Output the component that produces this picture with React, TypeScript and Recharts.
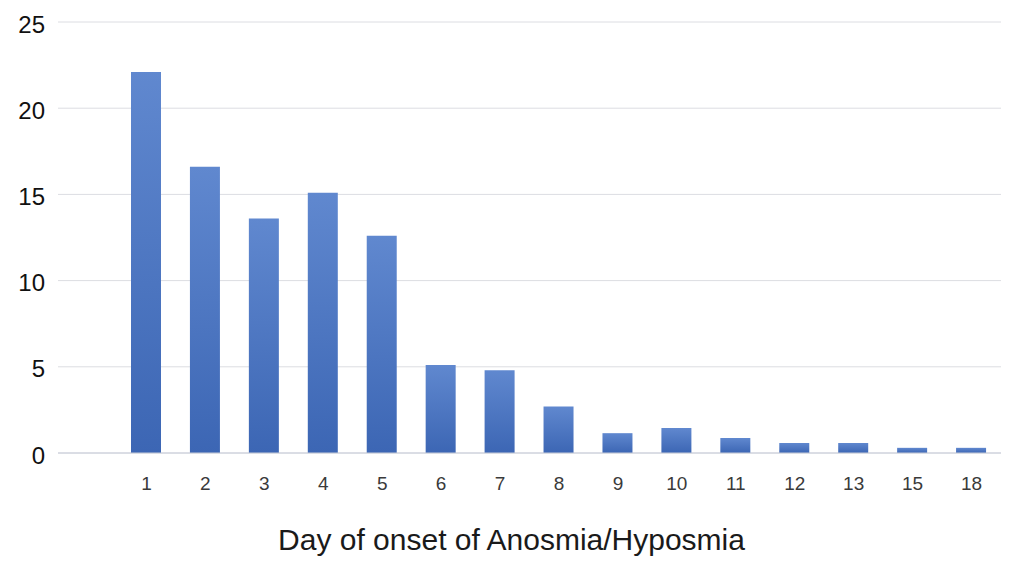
import { Bar, BarChart, CartesianGrid, XAxis, YAxis } from "recharts";

const DAYS = ["1", "2", "3", "4", "5", "6", "7", "8", "9", "10", "11", "12", "13", "15", "18"];
const PERCENT = [22.1, 16.6, 13.6, 15.1, 12.6, 5.1, 4.8, 2.7, 1.15, 1.45, 0.87, 0.58, 0.58, 0.3, 0.3];
const Y_TICKS = [0, 5, 10, 15, 20, 25];

const data = DAYS.map((day, i) => ({ day, value: PERCENT[i] }));

const FONT = "'Liberation Sans', Arial, sans-serif";

export default function App() {
  return (
    <div style={{ position: "absolute", left: 0, top: 0, background: "#fff" }}>
      <BarChart
        width={1024}
        height={584}
        data={data}
        margin={{ top: 22, right: 23, left: 0, bottom: 0 }}
      >
        <defs>
          <linearGradient id="barGrad" x1="0" y1="0" x2="0" y2="1">
            <stop offset="0%" stopColor="#6088cf" />
            <stop offset="100%" stopColor="#3c66b4" />
          </linearGradient>
        </defs>
        <CartesianGrid vertical={false} stroke="#dcdde2" />
        <XAxis
          dataKey="day"
          height={131}
          padding={{ left: 59, right: 0 }}
          axisLine={{ stroke: "#c8ccd8" }}
          tickLine={false}
          tickSize={0}
          tickMargin={24}
          interval={0}
          tick={{ fontSize: 19, fill: "#3a3a3a", fontFamily: FONT }}
          label={{
            value: "Day of onset of Anosmia/Hyposmia",
            position: "insideBottom",
            offset: 34,
            dx: -18,
            fontSize: 30,
            fill: "#1a1a1a",
            fontFamily: FONT,
          }}
        />
        <YAxis
          width={58}
          domain={[0, 25]}
          ticks={Y_TICKS}
          axisLine={false}
          tickLine={false}
          tickSize={0}
          tickMargin={13}
          tick={{ fontSize: 24, fill: "#111", fontFamily: FONT, dy: 2 }}
        />
        <Bar dataKey="value" barSize={30} fill="url(#barGrad)" isAnimationActive={false} />
      </BarChart>
    </div>
  );
}
